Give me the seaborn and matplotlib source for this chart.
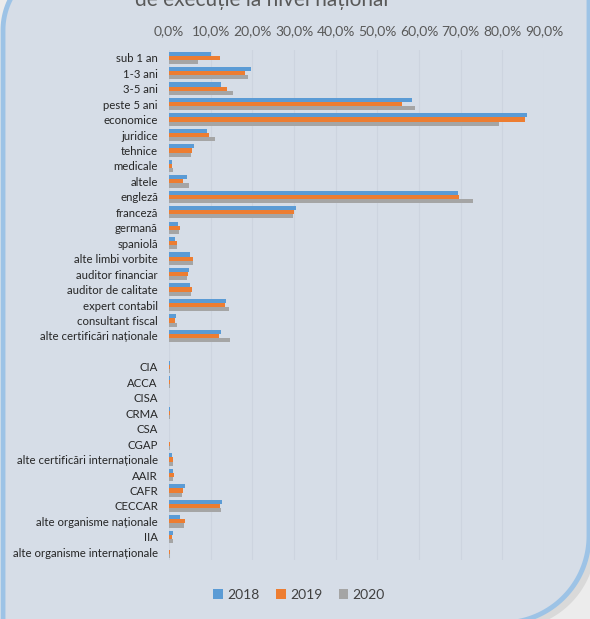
import numpy as np
import pandas as pd
import seaborn as sns
import matplotlib.pyplot as plt
from matplotlib.patches import PathPatch
from matplotlib.path import Path
from matplotlib.transforms import IdentityTransform
from matplotlib.ticker import FuncFormatter

categories = [
    "sub 1 an", "1-3 ani", "3-5 ani", "peste 5 ani", "economice", "juridice",
    "tehnice", "medicale", "altele", "engleză", "franceză", "germană",
    "spaniolă", "alte limbi vorbite", "auditor financiar", "auditor de calitate",
    "expert contabil", "consultant fiscal", "alte certificări naționale", "",
    "CIA", "ACCA", "CISA", "CRMA", "CSA", "CGAP",
    "alte certificări internaționale", "AAIR", "CAFR", "CECCAR",
    "alte organisme naționale", "IIA", "alte organisme internaționale",
]
nan = np.nan
v2018 = [10.1, 19.6, 12.4, 58.3, 85.8, 9.1, 6.0, 0.7, 4.3, 69.3, 30.5, 2.2,
         1.4, 5.0, 4.8, 5.0, 13.7, 1.7, 12.4, nan,
         0.2, 0.2, 0.1, 0.2, 0.1, 0.1, 0.8, 1.0, 3.8, 12.7, 2.6, 0.9, 0.1]
v2019 = [12.2, 18.2, 13.8, 55.9, 85.4, 9.6, 5.5, 0.8, 3.4, 69.5, 30.0, 2.6,
         1.9, 5.8, 4.6, 5.4, 13.4, 1.4, 12.0, nan,
         0.3, 0.3, 0.1, 0.3, 0.1, 0.2, 0.9, 1.3, 3.4, 12.2, 3.8, 0.6, 0.2]
v2020 = [7.0, 19.0, 15.4, 59.0, 79.1, 11.0, 5.3, 1.0, 4.8, 72.9, 29.8, 2.4,
         1.9, 5.7, 4.3, 5.2, 14.3, 2.0, 14.6, nan,
         0.3, 0.3, 0.1, 0.3, 0.1, 0.2, 1.0, 0.9, 3.0, 12.4, 3.7, 0.9, 0.2]
years = ["2018", "2019", "2020"]
colors = ["#5B9BD5", "#ED7D31", "#A5A5A5"]
tick_values = [0, 10, 20, 30, 40, 50, 60, 70, 80, 90]

df = pd.concat([
    pd.DataFrame({"categorie": categories, "valoare": vals, "an": yr})
    for yr, vals in zip(years, [v2018, v2019, v2020])
]).dropna()

sns.set_theme(style="white")
plt.rcParams["font.family"] = ["Lato", "DejaVu Sans"]

W, H = 590, 619
fig = plt.figure(figsize=(W / 100, H / 100), dpi=100, facecolor="#ECECEC")


def diagonal_round_rect(x0, y0, x1, y1, r_tl, r_br, n=40):
    """Rectangle (pixel coords) with rounded top-left and bottom-right corners."""
    pts = [(x0, y0)]
    a = np.linspace(-np.pi / 2, 0, n)
    pts += list(zip(x1 - r_br + r_br * np.cos(a), y0 + r_br + r_br * np.sin(a)))
    pts.append((x1, y1))
    a = np.linspace(np.pi / 2, np.pi, n)
    pts += list(zip(x0 + r_tl + r_tl * np.cos(a), y1 - r_tl + r_tl * np.sin(a)))
    pts.append((x0, y0))
    codes = [Path.MOVETO] + [Path.LINETO] * (len(pts) - 2) + [Path.CLOSEPOLY]
    return Path(pts, codes)


# card background: soft shadow + panel with blue border
fig.patches.append(PathPatch(diagonal_round_rect(9, -10, 596, 651, 68, 87),
                             transform=IdentityTransform(), facecolor="#D9D9D9",
                             edgecolor="none", zorder=0))
fig.patches.append(PathPatch(diagonal_round_rect(3, -4, 589, 657, 68, 87),
                             transform=IdentityTransform(), facecolor="#D6DDE7",
                             edgecolor="#9DC3E6", linewidth=3.5, zorder=1))

left, right = 169 / W, 544 / W
top, bottom = 1 - 50 / H, 1 - 560 / H
ax = fig.add_axes([left, bottom, right - left, top - bottom])
ax.set_facecolor("none")
ax.set_zorder(2)

sns.barplot(data=df, y="categorie", x="valoare", hue="an", order=categories,
            hue_order=years, palette=colors, orient="h", width=0.8,
            saturation=1, linewidth=0, ax=ax)

ax.set_xlim(0, 90)
ax.set_xticks(tick_values)
ax.xaxis.set_major_formatter(FuncFormatter(lambda x, _: f"{x:.1f}%".replace(".", ",")))
ax.xaxis.tick_top()
ax.tick_params(axis="x", length=0, pad=9, labelsize=10, labelcolor="#595959")
ax.tick_params(axis="y", length=0, pad=8, labelsize=8.2, labelcolor="#262626")
ax.set_xlabel("")
ax.set_ylabel("")
for s in ax.spines.values():
    s.set_visible(False)
ax.grid(axis="x", color="#CDD4DF", linewidth=0.8)
ax.grid(axis="y", visible=False)
ax.set_axisbelow(True)

sns.move_legend(ax, "center", bbox_to_anchor=(299 / W, 24 / H),
                bbox_transform=fig.transFigure, ncol=3, frameon=False,
                title=None, fontsize=10, handlelength=0.7, handleheight=0.7,
                handletextpad=0.3, columnspacing=1.2)
for t in ax.get_legend().get_texts():
    t.set_color("#404040")

fig.text(262 / W, 1 - 6 / H, "de execuție la nivel național", ha="center",
         va="baseline", fontsize=15, color="#595959", zorder=3)

fig.savefig("out.png", dpi=100, facecolor=fig.get_facecolor())
